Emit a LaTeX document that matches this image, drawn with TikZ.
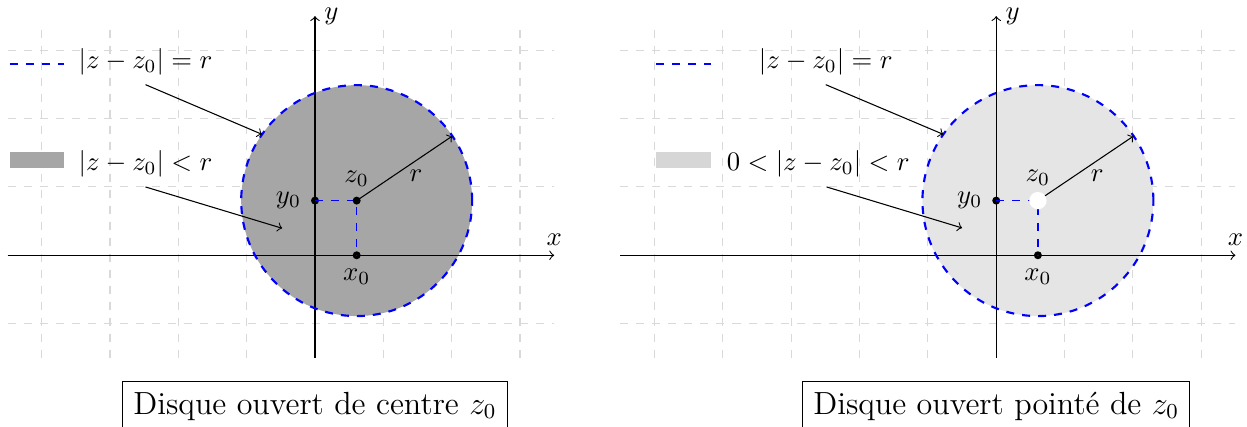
\documentclass[tikz,border=0pt]{standalone}
\usetikzlibrary{calc}
\begin{document}
\begin{tikzpicture}[x=0.9cm,y=0.9cm,
  gridline/.style={gray!30, dashed, thin},
  axis/.style={->, thin},
  bound/.style={blue, dashed, thick},
  guide/.style={blue, dashed, line width=0.5pt},
  pointer/.style={->, thin},
  dot/.style={circle, fill=black, inner sep=0pt, minimum size=3pt},
  opendot/.style={circle, fill=white, inner sep=0pt, minimum size=6.5pt},
  titlebox/.style={draw, font=\large, anchor=north, inner sep=4pt}]
\useasboundingbox (-4.61,-2.513) rectangle (13.64,3.736);

% ---------------- left panel ----------------
\begin{scope}
\draw[gridline, step=0.9cm] (-4.5,-1.5) grid (3.5,3.4);
\coordinate (aZc) at (0.61,0.8);
\fill[black!35] (aZc) circle (1.69);
\coordinate (aXs) at (-4.5,0);
\coordinate (aXe) at (3.5,0);
\coordinate (aYs) at (0,-1.5);
\coordinate (aYe) at (0,3.5);
\draw[axis] (aXs) -- (aXe) node[above] (aXl) {$x$};
\draw[axis] (aYs) -- (aYe) node[right] (aYl) {$y$};
\draw[bound] (aZc) circle (1.69);
\coordinate (aR) at ($(aZc)+(34:1.69)$);
\coordinate (aP1) at ($(aZc)+(145:1.69)$);
\coordinate (aP2) at (-0.48,0.395);
\node[dot] (aY0) at (0,0.8) {};
\node[dot] (aX0) at (0.61,0) {};
\draw[guide] (aY0.center) -- (aZc) -- (aX0.center);
\node[dot] (aZ) at (aZc) {};
\node[left] at (aY0.west) {$y_0$};
\node[below] at (aX0.south) {$x_0$};
\node[above] at (aZ.north) {$z_0$};
\draw[pointer] (aZ.center) -- (aR) node[pos=0.62, below] {$r$};
% legend
\coordinate (aLa) at (-4.47,2.8);
\coordinate (aLb) at (-3.67,2.8);
\draw[bound] (aLa) -- (aLb);
\fill[black!35] (-4.47,1.28) rectangle (-3.67,1.51);
\node (aL1) at (-2.48,2.83) {$|z-z_0|=r$};
\node (aL2) at (-2.48,1.333) {$|z-z_0|<r$};
\draw[pointer] (aL1.south) -- (aP1);
\draw[pointer] (aL2.south) -- (aP2);
\node[titlebox] (aT) at (0,-1.835) {Disque ouvert de centre $z_0$};
\end{scope}

% ---------------- right panel ----------------
\begin{scope}[shift={(9.97,0)}]
\draw[gridline, step=0.9cm] (-5.5,-1.5) grid (3.5,3.4);
\coordinate (bZc) at (0.61,0.8);
\fill[black!10] (bZc) circle (1.69);
\coordinate (bXs) at (-5.5,0);
\coordinate (bXe) at (3.5,0);
\coordinate (bYs) at (0,-1.5);
\coordinate (bYe) at (0,3.5);
\draw[axis] (bXs) -- (bXe) node[above] (bXl) {$x$};
\draw[axis] (bYs) -- (bYe) node[right] (bYl) {$y$};
\draw[bound] (bZc) circle (1.69);
\coordinate (bR) at ($(bZc)+(34:1.69)$);
\coordinate (bP1) at ($(bZc)+(145:1.69)$);
\coordinate (bP2) at (-0.5,0.40);
\node[dot] (bY0) at (0,0.8) {};
\node[dot] (bX0) at (0.61,0) {};
\draw[guide] (bY0.center) -- (bZc) -- (bX0.center);
\draw[pointer] (bZc) -- (bR) node[pos=0.62, below] {$r$};
\node[opendot] (bZ) at (bZc) {};
\node[left] at (bY0.west) {$y_0$};
\node[below] at (bX0.south) {$x_0$};
\node[above] at ([yshift=-1.5pt]bZ.north) {$z_0$};
% legend
\coordinate (bLa) at (-4.98,2.8);
\coordinate (bLb) at (-4.17,2.8);
\draw[bound] (bLa) -- (bLb);
\fill[black!16] (-4.98,1.28) rectangle (-4.18,1.51);
\node (bL1) at (-2.495,2.83) {$|z-z_0|=r$};
\node (bL2) at (-2.605,1.333) {$0<|z-z_0|<r$};
\draw[pointer] (bL1.south) -- (bP1);
\draw[pointer] ([xshift=0.11cm]bL2.south) -- (bP2);
\node[titlebox] (bT) at (0,-1.835) {Disque ouvert pointé de $z_0$};
\end{scope}
\end{tikzpicture}
\end{document}
